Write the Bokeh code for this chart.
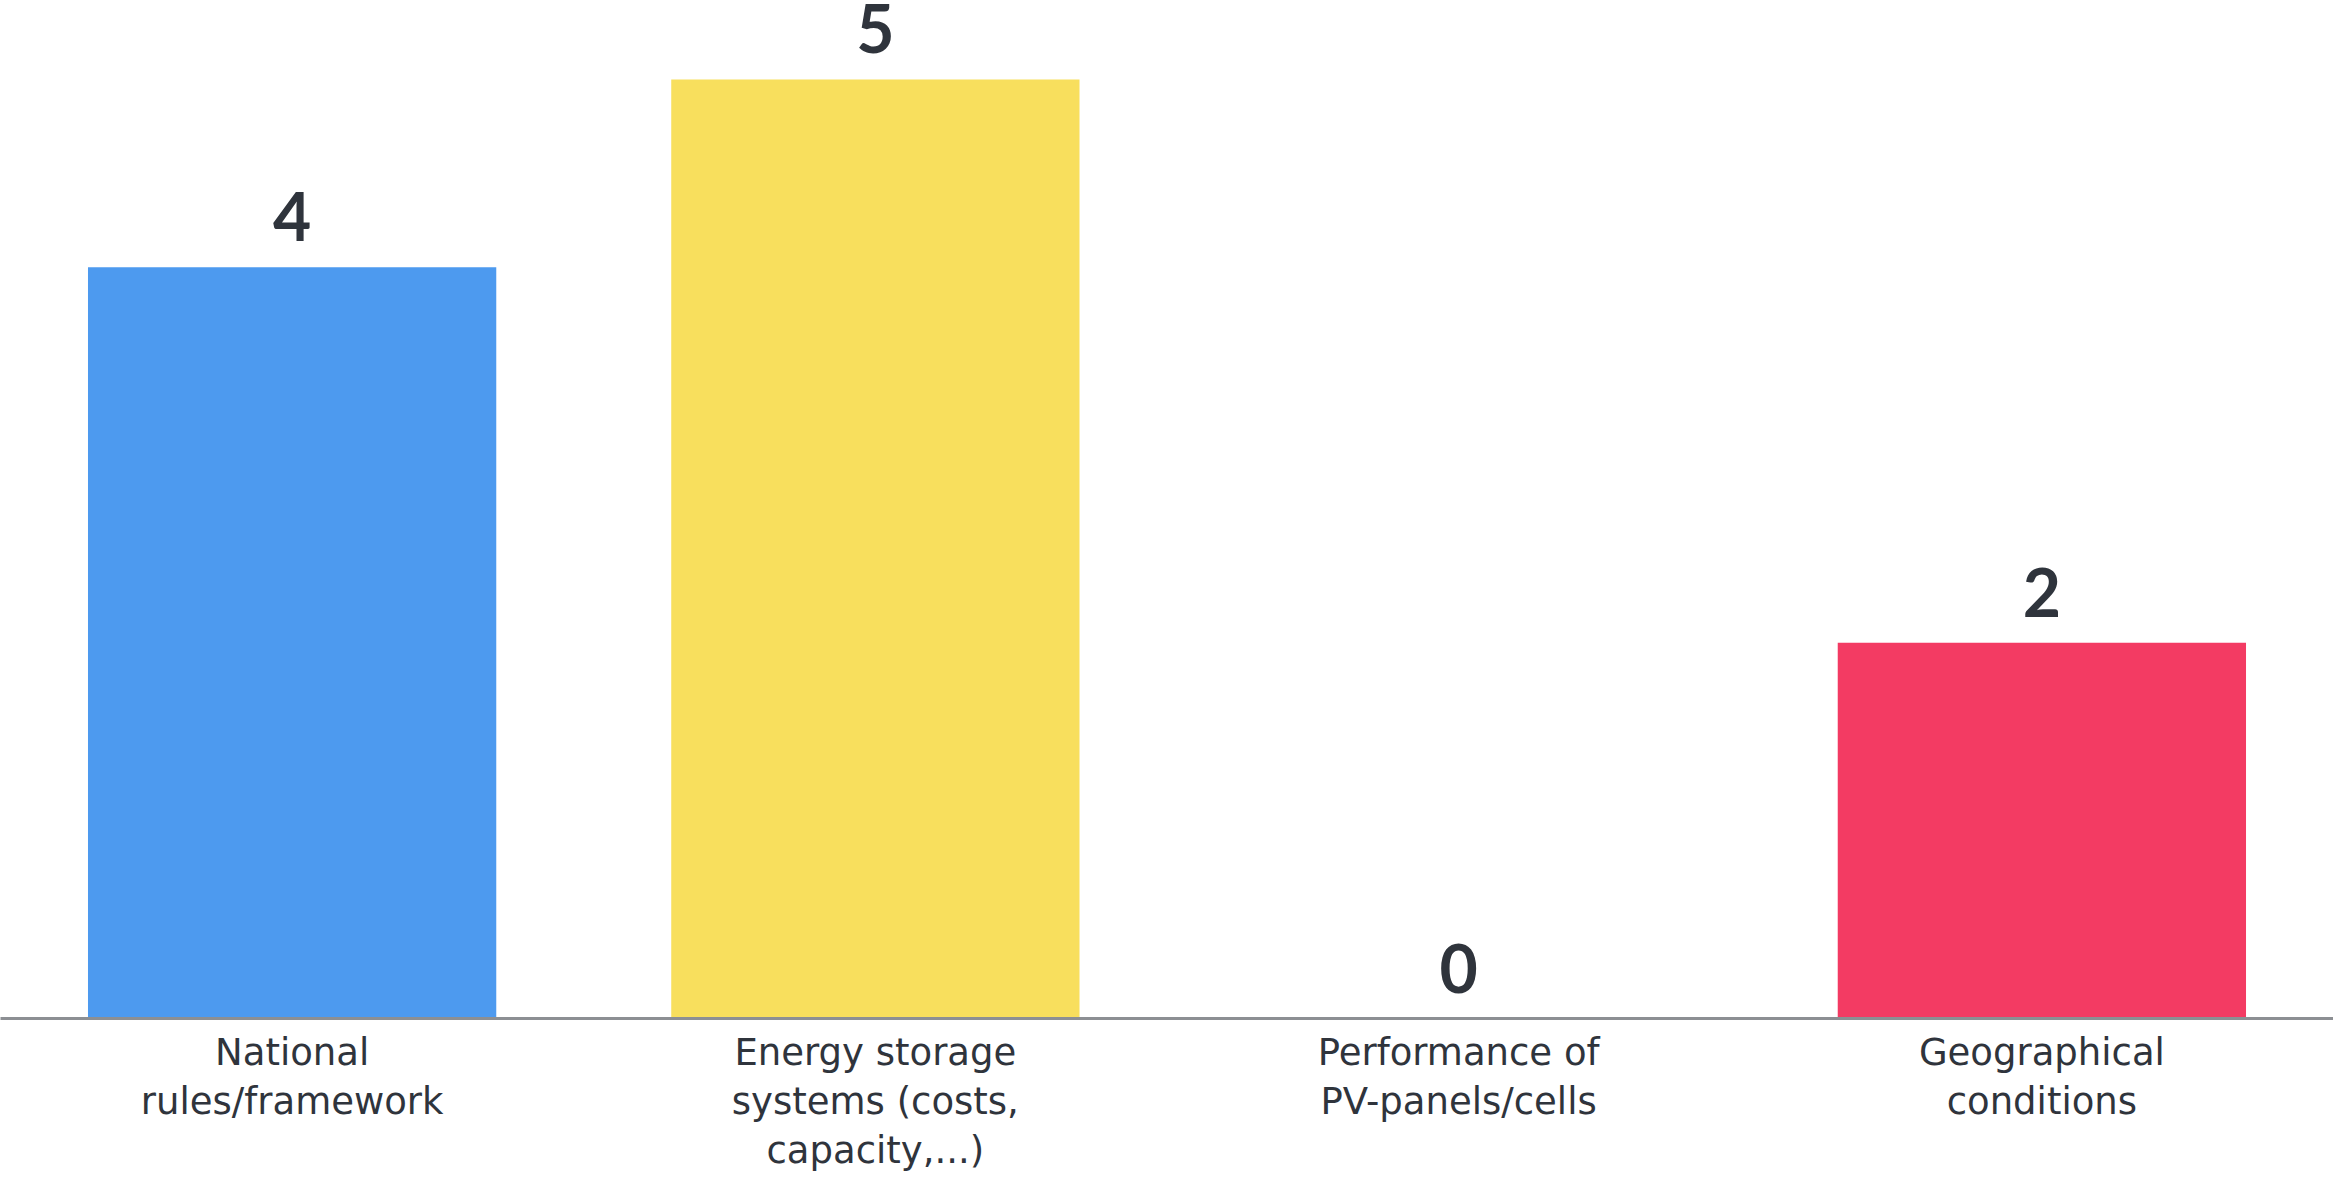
from bokeh.plotting import figure
from bokeh.models import ColumnDataSource, FactorRange, Range1d, LabelSet
from bokeh.core.properties import value
from bokeh.embed import file_html
from bokeh.resources import INLINE

categories = [
    "National\nrules/framework",
    "Energy storage\nsystems (costs,\ncapacity,...)",
    "Performance of\nPV-panels/cells",
    "Geographical\nconditions",
]
counts = [4, 5, 0, 2]
colors = ["#4D9AEF", "#F8DF5D", "#7CD4C4", "#F33B63"]
value_labels = [str(c) for c in counts]

src = ColumnDataSource(dict(cat=categories, val=counts, color=colors, lab=value_labels))

p = figure(
    x_range=FactorRange(*categories),
    y_range=Range1d(0, 5.42),
    width=2333, height=1178,
    output_backend="svg", toolbar_location=None,
    min_border_left=0, min_border_right=0, min_border_top=0, min_border_bottom=160,
)
p.vbar(x="cat", top="val", width=0.70, color="color", line_color=None, source=src)

labels = LabelSet(x="cat", y="val", text="lab", source=src, y_offset=26,
                  text_align="center", text_baseline="alphabetic",
                  text_font=value("Lato"), text_font_size="66px", text_font_style="bold",
                  text_color="#2F343C")
p.add_layout(labels)

p.yaxis.visible = False
p.xgrid.grid_line_color = None
p.ygrid.grid_line_color = None
p.outline_line_color = None
p.background_fill_color = "white"
p.border_fill_color = "white"

ax = p.xaxis[0]
ax.axis_line_color = "#8C8F93"
ax.axis_line_width = 3
ax.major_tick_line_color = None
ax.minor_tick_line_color = None
ax.major_label_text_font = "DejaVu Sans"
ax.major_label_text_font_size = "37px"
ax.major_label_text_color = "#2F343C"
ax.major_label_text_line_height = 1.14
ax.major_label_standoff = 6

open("out.html", "w").write(file_html(p, INLINE))
